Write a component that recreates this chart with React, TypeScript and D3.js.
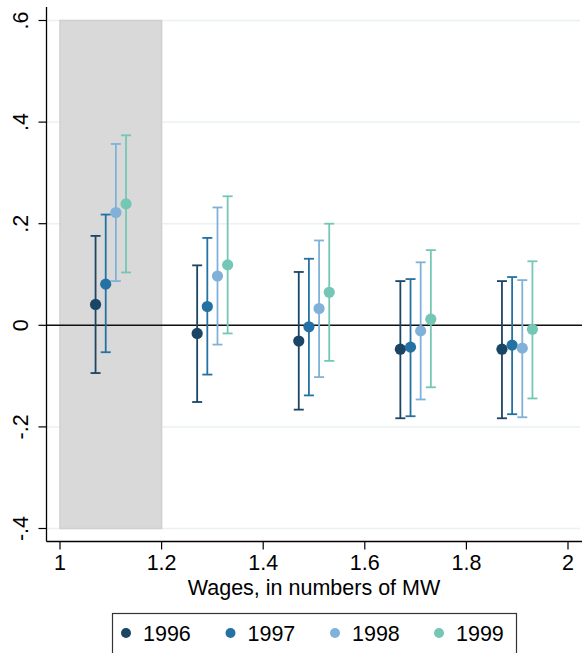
import * as d3 from 'd3';
import * as React from 'react';

const { useRef, useEffect } = React;

const width = 582;
const height = 653;

// wage bins (numbers of MW) and the offset of each year within a bin
const bins = [1.0, 1.2, 1.4, 1.6, 1.8];
const years = ['1996', '1997', '1998', '1999'];
const offsets = [0.07, 0.09, 0.11, 0.13];
const colors = ['#1b4565', '#2471a3', '#80b2d9', '#74c7b4'];

// point estimates, one row per year, one value per bin
const estimates = [
  [0.041, -0.016, -0.031, -0.047, -0.047],
  [0.081, 0.037, -0.003, -0.043, -0.039],
  [0.222, 0.097, 0.033, -0.011, -0.045],
  [0.239, 0.119, 0.065, 0.012, -0.008],
];
const upper = [
  [0.176, 0.118, 0.105, 0.087, 0.087],
  [0.218, 0.172, 0.131, 0.091, 0.095],
  [0.357, 0.232, 0.167, 0.124, 0.089],
  [0.374, 0.254, 0.2, 0.148, 0.126],
];
const lower = [
  [-0.094, -0.151, -0.166, -0.183, -0.183],
  [-0.053, -0.097, -0.138, -0.179, -0.175],
  [0.087, -0.038, -0.102, -0.146, -0.181],
  [0.104, -0.016, -0.07, -0.122, -0.144],
];

const xTicks = [1, 1.2, 1.4, 1.6, 1.8, 2];
const yTicks = [-0.4, -0.2, 0, 0.2, 0.4, 0.6];
const yTickLabels = ['-.4', '-.2', '0', '.2', '.4', '.6'];
const shaded = [1, 1.2];
const xTitle = 'Wages, in numbers of MW';

type Datum = { year: number; x: number; v: number; lo: number; hi: number };

export default () => {
  const rootRef = useRef<SVGSVGElement>(null);

  useEffect(() => {
    const svg = d3.select(rootRef.current);
    svg.selectAll('*').remove();

    const font = '"Liberation Sans", Arial, Helvetica, sans-serif';
    const fontSize = 21.5;

    const x = d3.scaleLinear().domain([1, 2]).range([60, 568]);
    const y = d3.scaleLinear().domain([-0.4, 0.6]).range([528.5, 20.5]);
    const axisX = 46.5;
    const axisY = 541.5;

    const data: Datum[] = [];
    years.forEach((_, i) => {
      bins.forEach((b, j) => {
        data.push({
          year: i,
          x: b + offsets[i],
          v: estimates[i][j],
          lo: lower[i][j],
          hi: upper[i][j],
        });
      });
    });

    // gridlines
    svg
      .append('g')
      .selectAll('line')
      .data(yTicks)
      .join('line')
      .attr('x1', axisX)
      .attr('x2', 580)
      .attr('y1', d => y(d))
      .attr('y2', d => y(d))
      .attr('stroke', '#eaf1f3')
      .attr('stroke-width', 1.5);

    // shaded bin
    svg
      .append('rect')
      .attr('x', x(shaded[0]))
      .attr('y', y(0.6))
      .attr('width', x(shaded[1]) - x(shaded[0]))
      .attr('height', y(-0.4) - y(0.6))
      .attr('fill', '#d9d9d9')
      .attr('stroke', '#d0d0d0')
      .attr('stroke-width', 1.5);

    // zero line
    svg
      .append('line')
      .attr('x1', axisX)
      .attr('x2', width)
      .attr('y1', y(0))
      .attr('y2', y(0))
      .attr('stroke', '#111')
      .attr('stroke-width', 1.6);

    // error bars
    const bars = svg.append('g').selectAll('g').data(data).join('g');
    bars
      .append('line')
      .attr('x1', d => x(d.x))
      .attr('x2', d => x(d.x))
      .attr('y1', d => y(d.lo))
      .attr('y2', d => y(d.hi))
      .attr('stroke', d => colors[d.year])
      .attr('stroke-width', 1.8);
    bars
      .selectAll('line.cap')
      .data(d => [
        { d, v: d.lo },
        { d, v: d.hi },
      ])
      .join('line')
      .attr('class', 'cap')
      .attr('x1', c => x(c.d.x) - 5)
      .attr('x2', c => x(c.d.x) + 5)
      .attr('y1', c => y(c.v))
      .attr('y2', c => y(c.v))
      .attr('stroke', c => colors[c.d.year])
      .attr('stroke-width', 1.8);

    // points
    svg
      .append('g')
      .selectAll('circle')
      .data(data)
      .join('circle')
      .attr('cx', d => x(d.x))
      .attr('cy', d => y(d.v))
      .attr('r', 5.6)
      .attr('fill', d => colors[d.year]);

    // y axis
    const yAxis = svg.append('g');
    yAxis
      .append('line')
      .attr('x1', axisX)
      .attr('x2', axisX)
      .attr('y1', 7)
      .attr('y2', axisY)
      .attr('stroke', '#000')
      .attr('stroke-width', 1.3);
    yAxis
      .selectAll('line.tick')
      .data(yTicks)
      .join('line')
      .attr('class', 'tick')
      .attr('x1', 38.5)
      .attr('x2', axisX)
      .attr('y1', d => y(d))
      .attr('y2', d => y(d))
      .attr('stroke', '#000')
      .attr('stroke-width', 1.2);
    yAxis
      .selectAll('text')
      .data(yTicks)
      .join('text')
      .attr('transform', d => `translate(27.5,${y(d)}) rotate(-90)`)
      .attr('text-anchor', 'middle')
      .attr('font-family', font)
      .attr('font-size', fontSize)
      .text((_, i) => yTickLabels[i]);

    // x axis
    const xAxis = svg.append('g');
    xAxis
      .append('line')
      .attr('x1', axisX)
      .attr('x2', width)
      .attr('y1', axisY)
      .attr('y2', axisY)
      .attr('stroke', '#000')
      .attr('stroke-width', 1.3);
    xAxis
      .selectAll('line.tick')
      .data(xTicks)
      .join('line')
      .attr('class', 'tick')
      .attr('x1', d => x(d))
      .attr('x2', d => x(d))
      .attr('y1', axisY)
      .attr('y2', 549.5)
      .attr('stroke', '#000')
      .attr('stroke-width', 1.2);
    xAxis
      .selectAll('text')
      .data(xTicks)
      .join('text')
      .attr('x', d => x(d))
      .attr('y', 570)
      .attr('text-anchor', 'middle')
      .attr('font-family', font)
      .attr('font-size', fontSize)
      .text(d => d3.format('~g')(d));
    xAxis
      .append('text')
      .attr('x', 314)
      .attr('y', 595)
      .attr('text-anchor', 'middle')
      .attr('font-family', font)
      .attr('font-size', fontSize)
      .text(xTitle);

    // legend
    const legend = svg.append('g');
    legend
      .append('rect')
      .attr('x', 112.5)
      .attr('y', 613.5)
      .attr('width', 404)
      .attr('height', 60)
      .attr('fill', '#fff')
      .attr('stroke', '#333')
      .attr('stroke-width', 1.2);
    const legendX = [126, 230.5, 335, 439];
    const items = legend
      .selectAll('g')
      .data(years)
      .join('g')
      .attr('transform', (_, i) => `translate(${legendX[i]},633)`);
    items
      .append('circle')
      .attr('r', 5)
      .attr('fill', (_, i) => colors[i]);
    items
      .append('text')
      .attr('x', 17)
      .attr('y', 8)
      .attr('font-family', font)
      .attr('font-size', fontSize)
      .text(d => d);
  }, []);

  return (
    <div style={{ position: 'absolute', left: 0, top: 0 }}>
      <svg ref={rootRef} width={width} height={height} style={{ display: 'block' }} />
    </div>
  );
};
